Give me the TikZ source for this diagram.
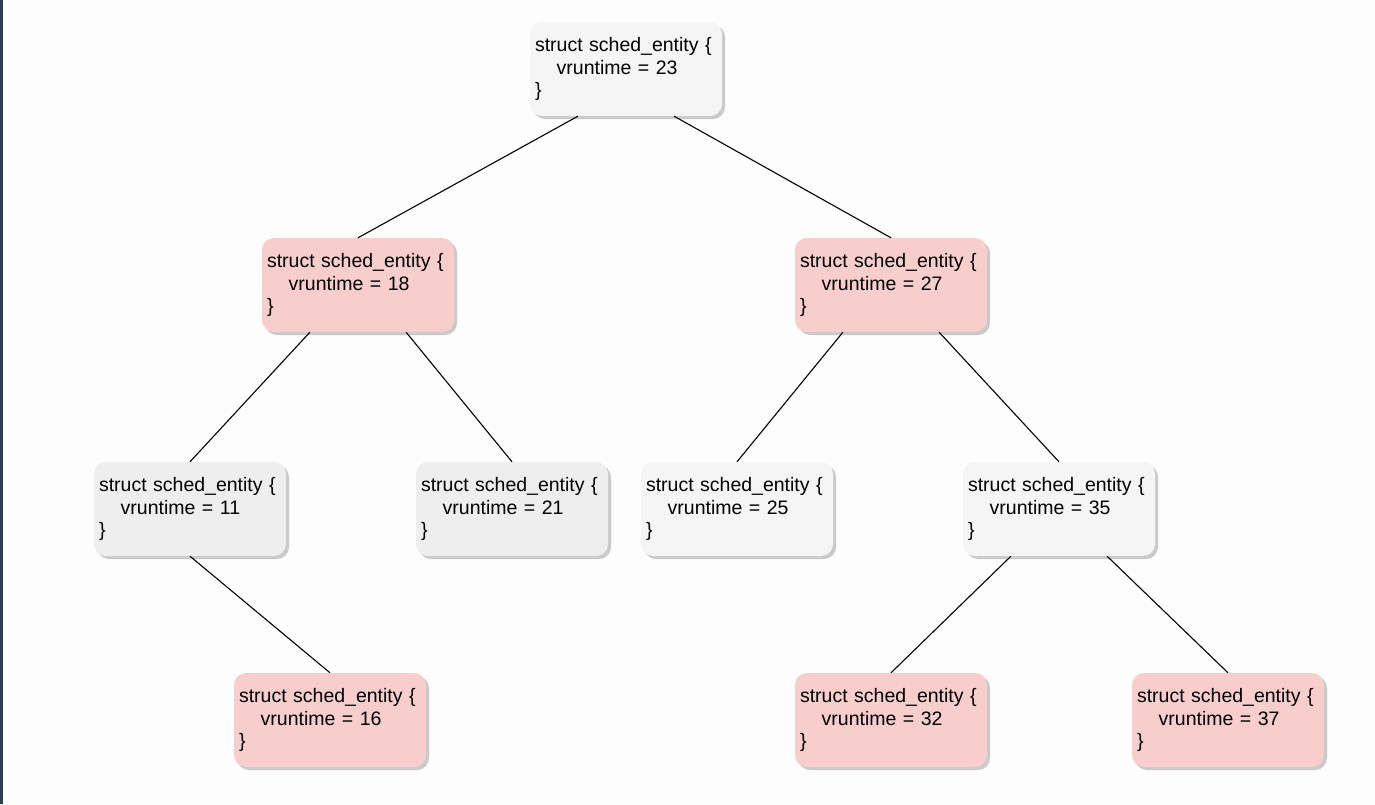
\documentclass[tikz,border=0pt]{standalone}
\usepackage{fontspec}
\setmainfont{Liberation Sans}
\usetikzlibrary{shadows,calc}
\definecolor{nodegray}{HTML}{F5F5F5}
\definecolor{nodegraydk}{HTML}{EEEEEE}
\definecolor{nodepink}{HTML}{F8CECC}
\definecolor{stripcol}{HTML}{2B3E58}
\definecolor{bgcol}{HTML}{FDFDFD}
\newcommand{\entitytext}[1]{struct sched\_entity \{\\\hspace*{21.7pt}vruntime = #1\\\}}
\begin{document}
\begin{tikzpicture}[x=1pt,y=-1pt,
  entity/.style={rectangle, rounded corners=12pt, minimum width=192pt, minimum height=94pt,
    text width=182pt, inner xsep=5pt, inner ysep=0pt, align=left,
    font=\fontsize{19.5pt}{22.5pt}\selectfont,
    drop shadow={shadow xshift=3pt, shadow yshift=-3pt, fill=black!45, opacity=0.45}},
  graynode/.style={entity, fill=nodegray},
  graydknode/.style={entity, fill=nodegraydk},
  pinknode/.style={entity, fill=nodepink},
  link/.style={draw=black, line width=1.1pt}]
\useasboundingbox (0,0) rectangle (1375,804);
\fill[bgcol] (0,0) rectangle (1375,804);
\fill[stripcol] (0,0) rectangle (2.5,804);

\node[graynode]   (n23) at (626,69)   {\entitytext{23}};
\node[pinknode]   (n18) at (358,285)  {\entitytext{18}};
\node[pinknode]   (n27) at (891,285)  {\entitytext{27}};
\node[graydknode] (n11) at (190,509)  {\entitytext{11}};
\node[graydknode] (n21) at (512,509)  {\entitytext{21}};
\node[graynode]   (n25) at (737,509)  {\entitytext{25}};
\node[graynode]   (n35) at (1059,509) {\entitytext{35}};
\node[pinknode]   (n16) at (330,720)  {\entitytext{16}};
\node[pinknode]   (n32) at (891,720)  {\entitytext{32}};
\node[pinknode]   (n37) at (1228,720) {\entitytext{37}};

\draw[link] ($(n23.south west)!0.25!(n23.south east)$) -- (n18.north);
\draw[link] ($(n23.south west)!0.75!(n23.south east)$) -- (n27.north);
\draw[link] ($(n18.south west)!0.25!(n18.south east)$) -- (n11.north);
\draw[link] ($(n18.south west)!0.75!(n18.south east)$) -- (n21.north);
\draw[link] ($(n27.south west)!0.25!(n27.south east)$) -- (n25.north);
\draw[link] ($(n27.south west)!0.75!(n27.south east)$) -- (n35.north);
\draw[link] (n11.south) -- (n16.north);
\draw[link] ($(n35.south west)!0.25!(n35.south east)$) -- (n32.north);
\draw[link] ($(n35.south west)!0.75!(n35.south east)$) -- (n37.north);
\end{tikzpicture}
\end{document}
